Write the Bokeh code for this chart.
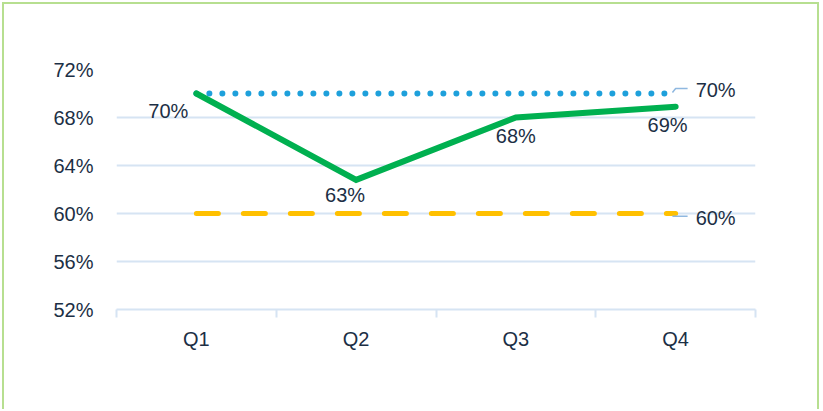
from bokeh.plotting import figure
from bokeh.models import Range1d, FixedTicker, NumeralTickFormatter, ColumnDataSource
from bokeh.core.properties import value
from bokeh.embed import file_html
from bokeh.resources import INLINE

quarters = ["Q1", "Q2", "Q3", "Q4"]
actual = [0.70, 0.628, 0.680, 0.689]
actual_labels = ["70%", "63%", "68%", "69%"]
target_high = 0.70
target_low = 0.60
y_ticks = [0.52, 0.56, 0.60, 0.64, 0.68, 0.72]

# style: label offsets in pixels
lab_dx = [-28, -11, 0, -8]
lab_dy = [17, 15, 18, 18]

TEXT = "#1c2f45"
GRID = "#d6e4f3"
FONT = "Liberation Sans"

xs = [i + 0.5 for i in range(len(quarters))]

p = figure(width=817, height=407, output_backend="svg", toolbar_location=None,
           x_range=Range1d(0, len(quarters)), y_range=Range1d(y_ticks[0], y_ticks[-1]),
           min_border_left=112, min_border_right=66, min_border_top=65, min_border_bottom=102,
           styles={"margin-left": "2px", "margin-top": "2px",
                   "border-left": "2px solid #b7df90", "border-top": "2px solid #b7df90",
                   "border-right": "2px solid #b7df90"})
p.outline_line_color = None
p.background_fill_color = "white"
p.border_fill_color = "white"

# axes
p.xaxis.ticker = FixedTicker(ticks=xs, minor_ticks=list(range(len(quarters) + 1)))
p.xaxis.major_label_overrides = {x: q for x, q in zip(xs, quarters)}
p.xaxis.major_tick_line_color = None
p.xaxis.major_tick_out = 0
p.xaxis.major_tick_in = 0
p.xaxis.minor_tick_line_color = GRID
p.xaxis.minor_tick_line_width = 2
p.xaxis.minor_tick_out = 8
p.xaxis.minor_tick_in = 0
p.xaxis.axis_line_color = GRID
p.xaxis.axis_line_width = 2
p.xaxis.major_label_standoff = 10
p.xaxis.major_label_text_font = FONT
p.xaxis.major_label_text_font_size = "20px"
p.xaxis.major_label_text_color = TEXT

p.yaxis.ticker = FixedTicker(ticks=y_ticks, minor_ticks=[])
p.yaxis.formatter = NumeralTickFormatter(format="0%")
p.yaxis.axis_line_color = None
p.yaxis.major_tick_line_color = None
p.yaxis.major_tick_out = 0
p.yaxis.major_tick_in = 0
p.yaxis.minor_tick_line_color = None
p.yaxis.major_label_standoff = 23
p.yaxis.major_label_text_font = FONT
p.yaxis.major_label_text_font_size = "20px"
p.yaxis.major_label_text_color = TEXT

p.xgrid.grid_line_color = None
p.ygrid.grid_line_color = GRID
p.ygrid.grid_line_width = 2

# target lines
p.line([xs[0], xs[-1]], [target_high] * 2, line_color="#1ea0db", line_width=6,
       line_dash="0 13", line_cap="round")
p.line([xs[0], xs[-1]], [target_low] * 2, line_color="#ffc000", line_width=5,
       line_dash="22 25", line_cap="round")

# actual line
p.line(xs, actual, line_color="#00b050", line_width=6, line_join="miter", line_cap="round")

src = ColumnDataSource(dict(x=xs, y=actual, t=actual_labels, dx=lab_dx, dy=lab_dy))
p.text("x", "y", text="t", source=src, x_offset="dx", y_offset="dy",
       text_align="center", text_baseline="middle", text_font=value(FONT),
       text_font_size="20px", text_color=TEXT)

# end labels with leader lines
LEAD = "#8fb8e0"
p.line([xs[-1] - 0.02, xs[-1], xs[-1] + 0.075], [target_high + 0.0008, target_high + 0.0042, target_high + 0.0042],
       line_color=LEAD, line_width=1.5)
p.line([xs[-1] - 0.02, xs[-1] + 0.075], [target_low - 0.0022, target_low - 0.0022],
       line_color=LEAD, line_width=1.5)
p.text([xs[-1], xs[-1]], [target_high, target_low],
       text=["{:.0%}".format(target_high), "{:.0%}".format(target_low)],
       x_offset=20, y_offset=[-4, 4], text_align="left", text_baseline="middle",
       text_font=value(FONT), text_font_size="20px", text_color=TEXT)

open("out.html", "w").write(file_html(p, INLINE))
